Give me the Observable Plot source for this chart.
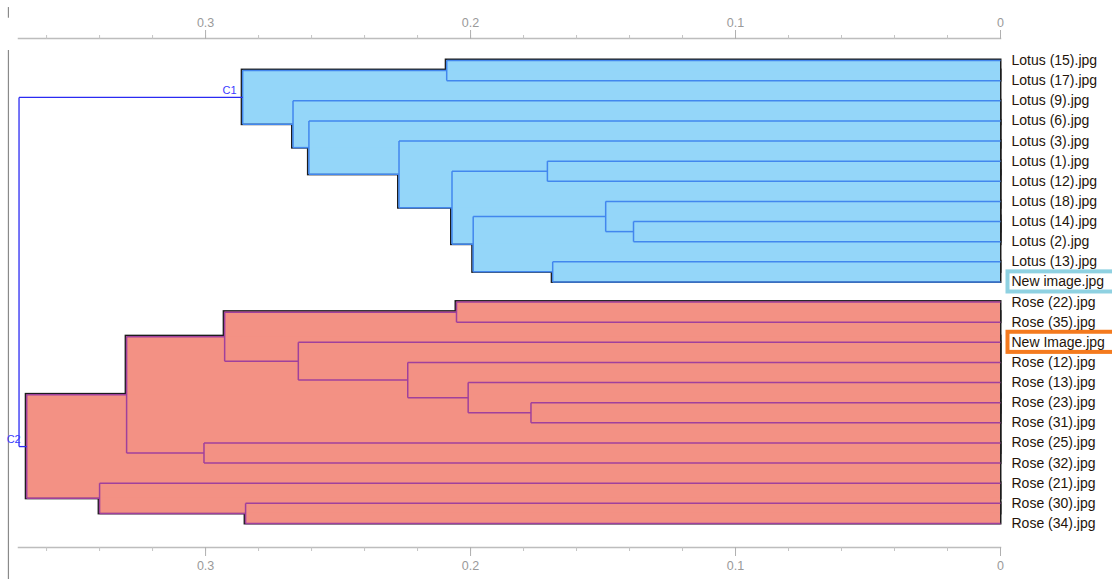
<!DOCTYPE html>
<html>
<head>
<meta charset="utf-8">
<script src="https://cdn.jsdelivr.net/npm/d3@7"></script>
<script src="https://cdn.jsdelivr.net/npm/@observablehq/plot@0.6"></script>
<style>
  html, body { margin: 0; padding: 0; background: #fff; }
  #chart svg { display: block; }
</style>
</head>
<body>
<div id="chart"></div>
<script>
// ---- Leaves (top to bottom) ----
const leafLabels = [
  "Lotus (15).jpg", "Lotus (17).jpg", "Lotus (9).jpg", "Lotus (6).jpg",
  "Lotus (3).jpg", "Lotus (1).jpg", "Lotus (12).jpg", "Lotus (18).jpg",
  "Lotus (14).jpg", "Lotus (2).jpg", "Lotus (13).jpg", "New image.jpg",
  "Rose (22).jpg", "Rose (35).jpg", "New Image.jpg", "Rose (12).jpg",
  "Rose (13).jpg", "Rose (23).jpg", "Rose (31).jpg", "Rose (25).jpg",
  "Rose (32).jpg", "Rose (21).jpg", "Rose (30).jpg", "Rose (34).jpg"
];

// ---- Merges (children listed before parents) ----
const nodeNames = ["A","B","C","D","E","F","G","H","I","J","C1",
                   "R1","R2","R3","R4","R5","R6","R7","R8","R9","R10","C2","root"];
const nodeLeft = [
  "Lotus (15).jpg", "Lotus (1).jpg", "Lotus (14).jpg", "Lotus (18).jpg", "Lotus (13).jpg",
  "D", "B", "Lotus (3).jpg", "Lotus (6).jpg", "Lotus (9).jpg", "A",
  "Rose (22).jpg", "Rose (23).jpg", "Rose (13).jpg", "Rose (12).jpg", "New Image.jpg",
  "R1", "Rose (25).jpg", "R6", "Rose (30).jpg", "Rose (21).jpg", "R8", "C1"
];
const nodeRight = [
  "Lotus (17).jpg", "Lotus (12).jpg", "Lotus (2).jpg", "C", "New image.jpg",
  "E", "F", "G", "H", "I", "J",
  "Rose (35).jpg", "Rose (31).jpg", "R2", "R3", "R4",
  "R5", "Rose (32).jpg", "R7", "Rose (34).jpg", "R9", "R10", "C2"
];
const nodeHeights = [
  0.209, 0.171, 0.1385, 0.149, 0.169, 0.199, 0.207, 0.227, 0.261, 0.267, 0.286,
  0.2053, 0.1772, 0.2009, 0.2237, 0.265, 0.2928, 0.3006, 0.3298, 0.2849, 0.340, 0.3675, 0.3704
];
const nodeCluster = [
  "Lotus","Lotus","Lotus","Lotus","Lotus","Lotus","Lotus","Lotus","Lotus","Lotus","Lotus",
  "Rose","Rose","Rose","Rose","Rose","Rose","Rose","Rose","Rose","Rose","Rose","root"
];

// ---- Styling tables ----
const clusterNames = ["Lotus", "Rose", "root"];
const clusterFill = ["#94d6f9", "#f39184", "none"];
const clusterLine = ["#4287ee", "#a0409c", "#2b2bf2"];
const clusterLabels = ["C1", "C2"];
const highlightLabels = ["New image.jpg", "New Image.jpg"];
const highlightColors = ["#8fd1e1", "#f47a1e"];

// ---- Axis ticks ----
const tickValues = [0, 0.1, 0.2, 0.3];
const tickLabels = ["0", "0.1", "0.2", "0.3"];
const minorTickValues = [0, 0.02, 0.04, 0.06, 0.08, 0.1, 0.12, 0.14, 0.16, 0.18,
                         0.2, 0.22, 0.24, 0.26, 0.28, 0.3, 0.32, 0.34, 0.36];

// ---- Build tree geometry ----
const pos = new Map(), hgt = new Map();
leafLabels.forEach((l, i) => { pos.set(l, i); hgt.set(l, 0); });
const nodes = nodeNames.map((n, i) => {
  const yl = pos.get(nodeLeft[i]), yr = pos.get(nodeRight[i]);
  const y = (yl + yr) / 2;
  pos.set(n, y); hgt.set(n, nodeHeights[i]);
  return {name: n, h: nodeHeights[i], yl: Math.min(yl, yr), yr: Math.max(yl, yr), y,
          left: nodeLeft[i], right: nodeRight[i], cluster: nodeCluster[i]};
});
const segments = [];
for (const nd of nodes) {
  segments.push({x1: nd.h, x2: nd.h, y1: nd.yl, y2: nd.yr, cluster: nd.cluster});
  for (const c of [nd.left, nd.right]) {
    segments.push({x1: nd.h, x2: hgt.get(c), y1: pos.get(c), y2: pos.get(c), cluster: nd.cluster});
  }
}
const rects = nodes.filter(d => d.cluster !== "root");
const colorOf = (arr, c) => arr[clusterNames.indexOf(c)];

const marks = [
  // left border line
  Plot.ruleX([0.3744], {y1: -2.63, y2: -2.1, stroke: "#8a8a8a", strokeWidth: 1.2}),
  Plot.ruleX([0.3744], {y1: -0.5, y2: 25.8, stroke: "#8a8a8a", strokeWidth: 1.2}),
  // axis lines
  Plot.frame({anchor: "top", stroke: "#bdbdbd", strokeWidth: 1.5}),
  Plot.frame({anchor: "bottom", stroke: "#bdbdbd", strokeWidth: 1.5}),
  // minor ticks
  Plot.axisX({anchor: "top", ticks: minorTickValues, tickSize: 4, tickFormat: () => "", stroke: "#c4c4c4", label: null}),
  Plot.axisX({anchor: "bottom", ticks: minorTickValues, tickSize: 4, tickFormat: () => "", stroke: "#c4c4c4", label: null}),
  // major ticks with labels
  Plot.axisX({anchor: "top", ticks: tickValues, tickSize: 9, tickPadding: 3,
    tickFormat: d => tickLabels[tickValues.indexOf(d)], stroke: "#b0b0b0", fill: "#9a9a9a", fontSize: 12.5, label: null}),
  Plot.axisX({anchor: "bottom", ticks: tickValues, tickSize: 9, tickPadding: 5,
    tickFormat: d => tickLabels[tickValues.indexOf(d)], stroke: "#b0b0b0", fill: "#9a9a9a", fontSize: 12.5, label: null}),
  // outline (black) underneath fills
  Plot.rect(rects, {x1: "h", x2: () => 0, y1: "yl", y2: "yr", fill: "none", stroke: "#1c1c1c", strokeWidth: 3, strokeLinejoin: "miter"}),
  // fills
  ...clusterNames.filter(c => c !== "root").map(c =>
    Plot.rect(rects.filter(d => d.cluster === c), {x1: "h", x2: () => 0, y1: "yl", y2: "yr", fill: colorOf(clusterFill, c), stroke: "none"})
  ),
  // tree lines
  ...clusterNames.map(c =>
    Plot.link(segments.filter(d => d.cluster === c), {x1: "x1", x2: "x2", y1: "y1", y2: "y2",
      stroke: colorOf(clusterLine, c), strokeWidth: c === "root" ? 1.3 : 1.5})
  ),
  // highlight boxes behind highlighted labels
  Plot.rect(highlightLabels, {x1: () => 0, x2: () => 0, y1: d => pos.get(d) - 0.5, y2: d => pos.get(d) + 0.5,
    insetLeft: 7.5, insetRight: -130, fill: "white",
    stroke: (d, i) => highlightColors[i], strokeWidth: 4}),
  // leaf labels
  Plot.text(leafLabels, {x: () => 0, y: (d, i) => i, text: d => d, dx: 11, textAnchor: "start",
    fontSize: 14, fill: "#24140a"}),
  // cluster labels
  Plot.text(clusterLabels, {x: d => hgt.get(d), y: d => pos.get(d), text: d => d,
    dx: -6, dy: -7, textAnchor: "end", fontSize: 11, fill: "#3b3bff"})
];

const chart = Plot.plot({
  width: 1112,
  height: 579,
  marginLeft: 18,
  marginRight: 112,
  marginTop: 38,
  marginBottom: 32,
  x: {domain: [0.3706, 0], range: [18, 1000]},
  y: {domain: [0, 23], range: [60, 523], axis: null},
  color: {type: "identity"},
  style: {fontFamily: "'Liberation Sans', Arial, sans-serif", background: "white", overflow: "visible"},
  marks
});
document.getElementById("chart").appendChild(chart);
</script>
</body>
</html>
